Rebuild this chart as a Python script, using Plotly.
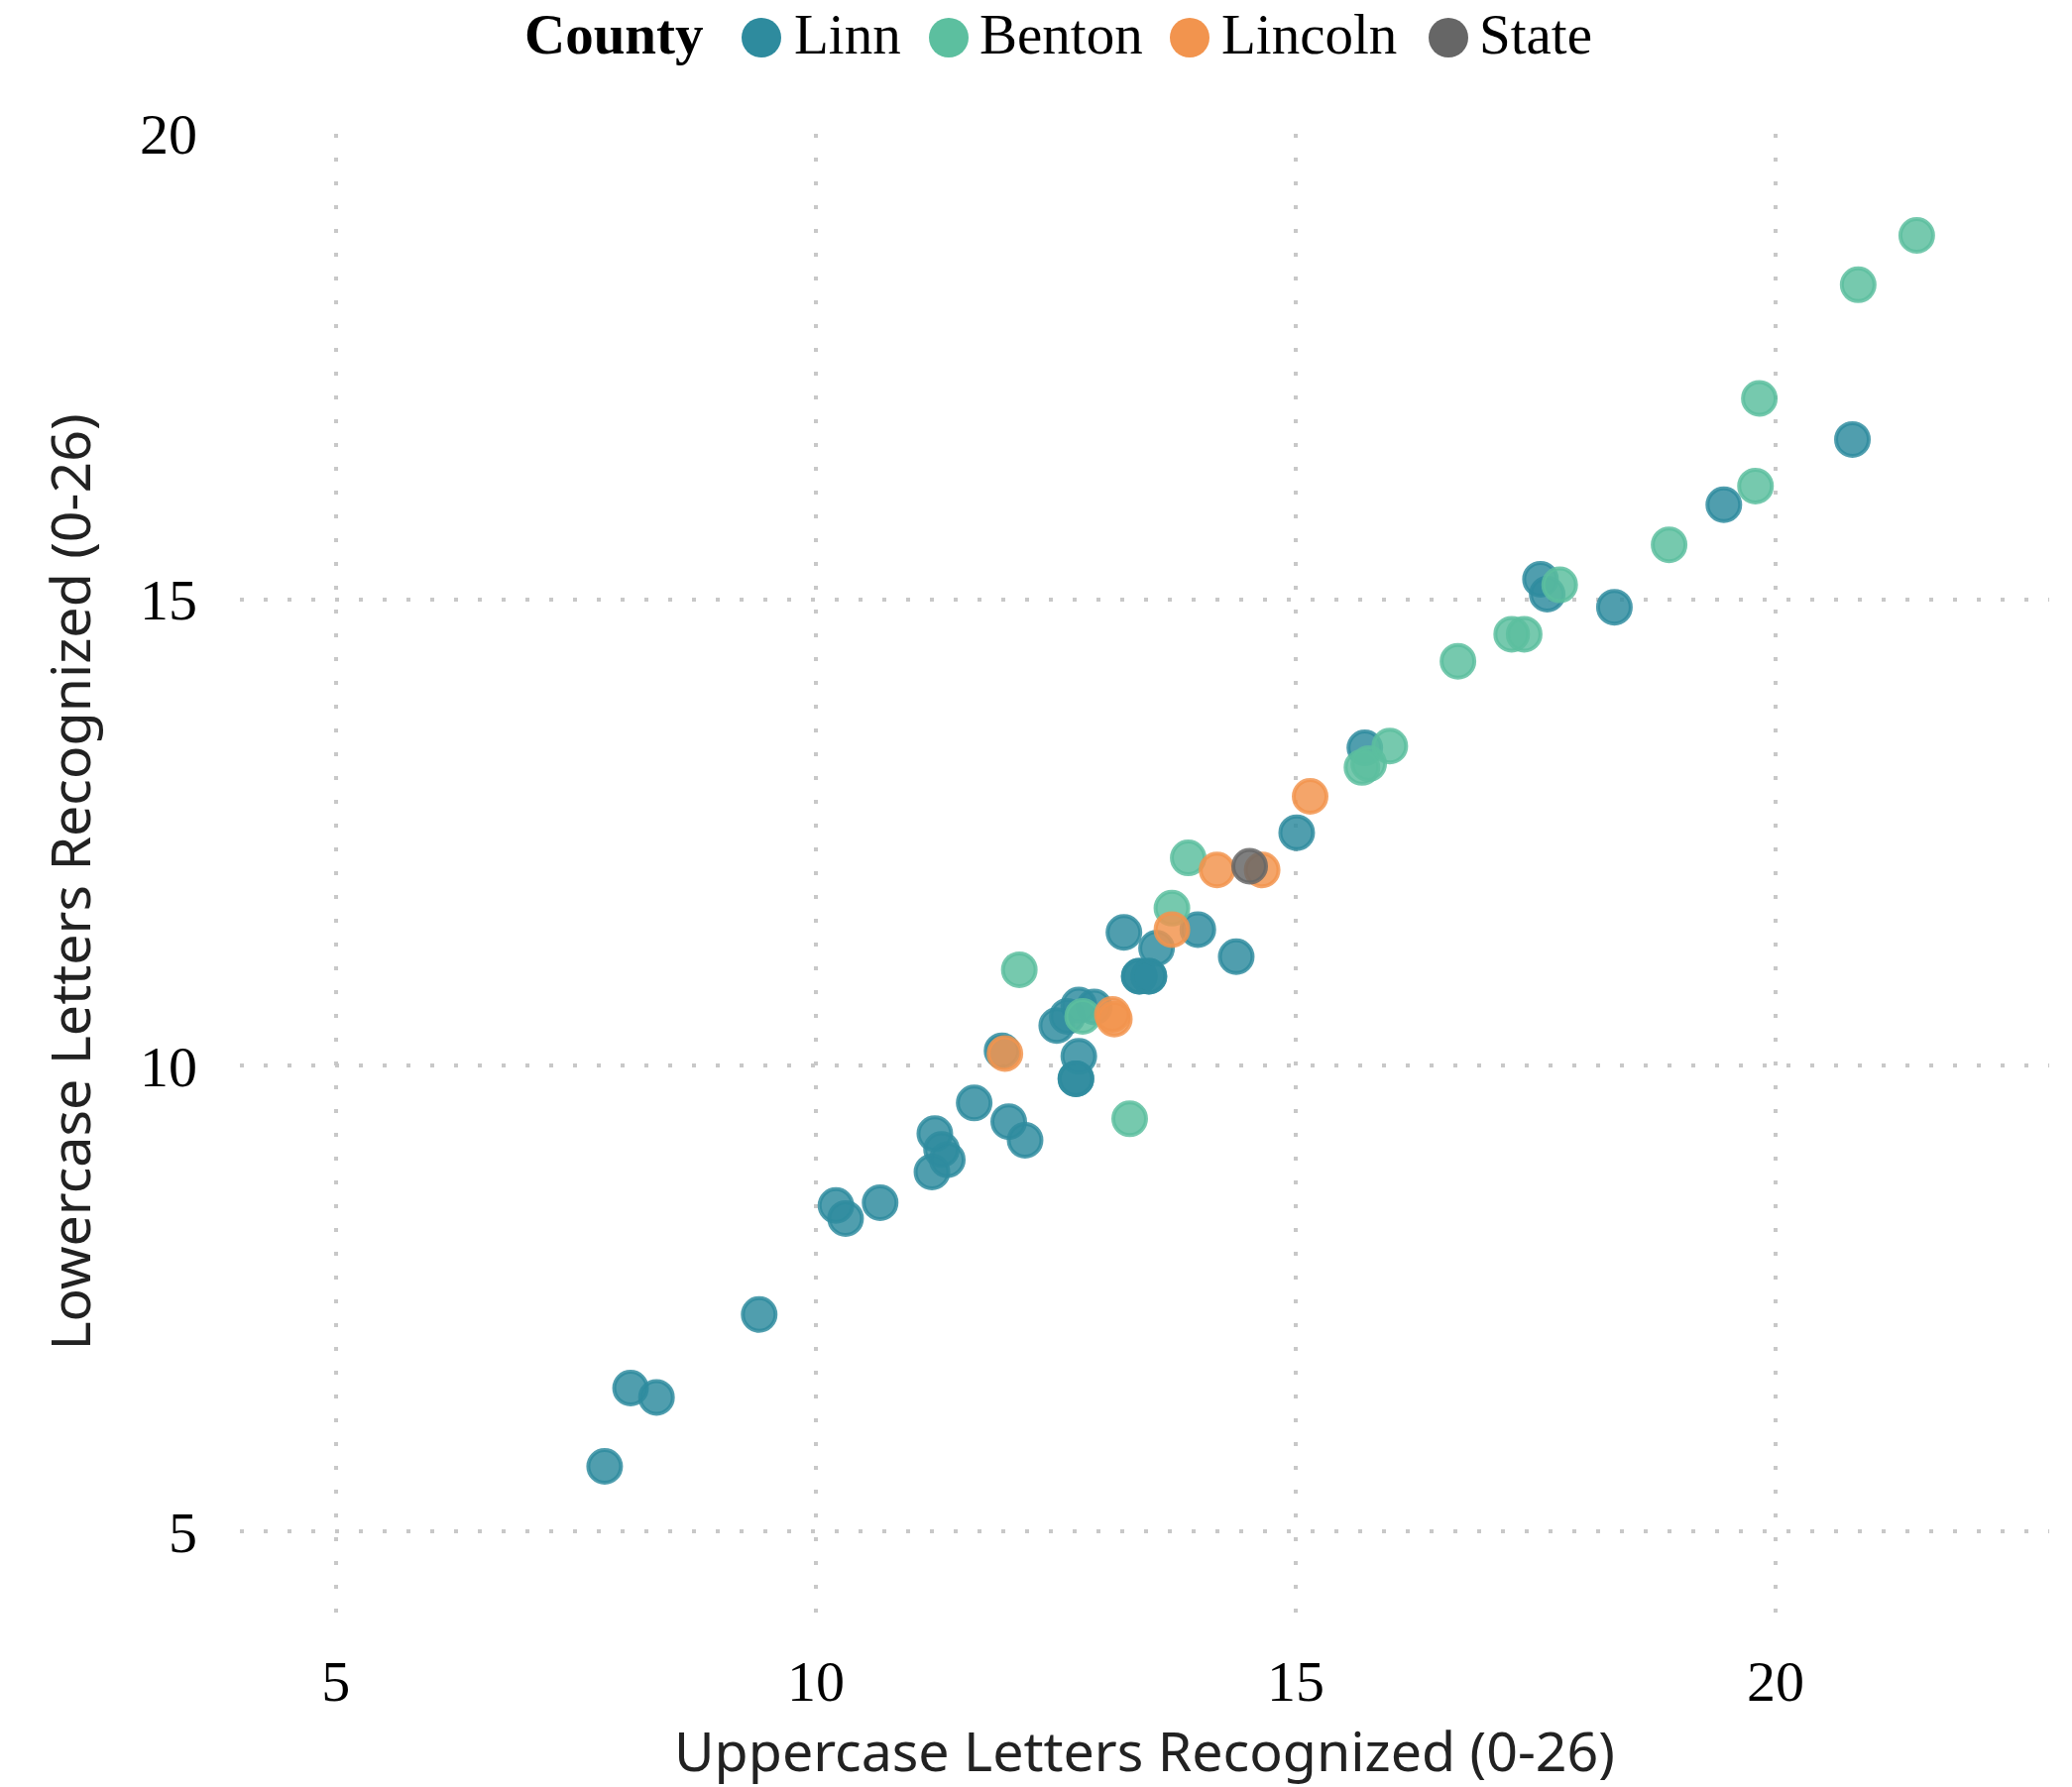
import plotly.graph_objects as go

# ---------------- data ----------------
counties = ["Linn", "Benton", "Lincoln", "State"]
colors = ["#2e8b9e", "#5cbf9f", "#f2944e", "#666666"]

linn_x = [7.80, 8.07, 8.34, 9.41, 10.21, 10.31, 10.67, 11.21, 11.24, 11.31, 11.37,
          11.65, 12.01, 12.18, 11.94, 12.51, 12.62, 12.74, 12.90, 12.74, 12.71, 12.71,
          13.21, 13.37, 13.37, 13.47, 13.47, 13.55, 13.98, 14.38, 15.01, 15.72,
          17.55, 17.62, 18.32, 19.46, 20.80]
linn_y = [5.70, 6.54, 6.44, 7.33, 8.50, 8.36, 8.53, 8.86, 9.27, 9.10, 8.99,
          9.60, 9.40, 9.20, 10.16, 10.43, 10.53, 10.65, 10.63, 10.10, 9.86, 9.86,
          11.43, 10.96, 10.96, 10.96, 10.96, 11.26, 11.46, 11.17, 12.50, 13.41,
          15.22, 15.06, 14.92, 16.02, 16.72]

benton_x = [12.12, 12.78, 13.27, 13.71, 13.88, 15.69, 15.76, 15.98, 16.69, 17.25,
            17.38, 17.75, 18.89, 19.79, 19.83, 20.86, 21.47]
benton_y = [11.03, 10.53, 9.43, 11.69, 12.23, 13.20, 13.24, 13.43, 14.34, 14.63,
            14.63, 15.16, 15.59, 16.22, 17.16, 18.38, 18.91]

lincoln_x = [11.97, 13.09, 13.11, 13.71, 14.18, 14.65, 15.15]
lincoln_y = [10.13, 10.55, 10.50, 11.46, 12.10, 12.10, 12.89]

state_x = [14.52]
state_y = [12.14]

x_ticks = [5, 10, 15, 20]
y_ticks = [5, 10, 15, 20]
x_title = "Uppercase Letters Recognized (0-26)"
y_title = "Lowercase Letters Recognized (0-26)"
legend_title = "County"

# ---------------- layout constants ----------------
W, H = 2090, 1803
ML, MR, MT, MB = 242, 23, 135, 158
PW, PH = W - ML - MR, H - MT - MB


def rgba(hex_color, a):
    h = hex_color.lstrip("#")
    r, g, b = int(h[0:2], 16), int(h[2:4], 16), int(h[4:6], 16)
    return f"rgba({r},{g},{b},{a})"


def paper_x(px):
    return (px - ML) / PW


def paper_y(py):
    return (H - MB - py) / PH


series = [(linn_x, linn_y), (benton_x, benton_y), (lincoln_x, lincoln_y), (state_x, state_y)]

fig = go.Figure()
for name, col, (xs, ys) in zip(counties, colors, series):
    fig.add_trace(go.Scatter(
        x=xs, y=ys, mode="markers", name=name, showlegend=False,
        marker=dict(size=33, color=rgba(col, 0.84),
                    line=dict(width=4, color=rgba(col, 0.84))),
    ))

grid = dict(showgrid=True, gridcolor="#c8c8c8", gridwidth=4, griddash="4px,20px",
            zeroline=False, showline=False, ticks="")
title_font = dict(family="Noto Sans, Segoe UI, sans-serif", size=55.5, color="#222")
tick_font = dict(family="Liberation Serif, Times New Roman, serif", size=58, color="#000")

fig.update_xaxes(range=[4.0, 22.85], tickvals=x_ticks, **grid,
                 tickfont=tick_font, ticklabelstandoff=12,
                 title=dict(text=x_title, standoff=14, font=title_font))
fig.update_yaxes(range=[3.94, 20.0], tickvals=y_ticks, **grid,
                 tickfont=tick_font, ticklabelstandoff=42,
                 title=dict(text=y_title, standoff=31, font=title_font))

# ---------------- manual legend (top) ----------------
legend_font = dict(family="Liberation Serif, Times New Roman, serif", size=57, color="#000")
annotations = [dict(text=f"<b>{legend_title}</b>", x=paper_x(527), y=paper_y(34), xref="paper",
                    yref="paper", xanchor="left", yanchor="middle", showarrow=False,
                    font=legend_font)]
shapes = []
circle_cx = [768, 957, 1200, 1461]
label_x = [799, 986, 1230, 1490]
for name, col, cx, lx in zip(counties, colors, circle_cx, label_x):
    shapes.append(dict(type="circle", xref="paper", yref="paper",
                       xsizemode="pixel", ysizemode="pixel",
                       xanchor=paper_x(cx), yanchor=paper_y(38),
                       x0=-20, x1=20, y0=-20, y1=20,
                       fillcolor=col, line=dict(width=0)))
    annotations.append(dict(text=name, x=paper_x(lx), y=paper_y(34), xref="paper", yref="paper",
                            xanchor="left", yanchor="middle", showarrow=False, font=legend_font))

fig.update_layout(
    width=W, height=H, autosize=False,
    margin=dict(l=ML, r=MR, t=MT, b=MB, pad=0),
    plot_bgcolor="white", paper_bgcolor="white",
    showlegend=False,
    annotations=annotations, shapes=shapes,
)

fig.write_html("out.html", config={"displayModeBar": False},
               post_script="document.body.style.margin='0';")
